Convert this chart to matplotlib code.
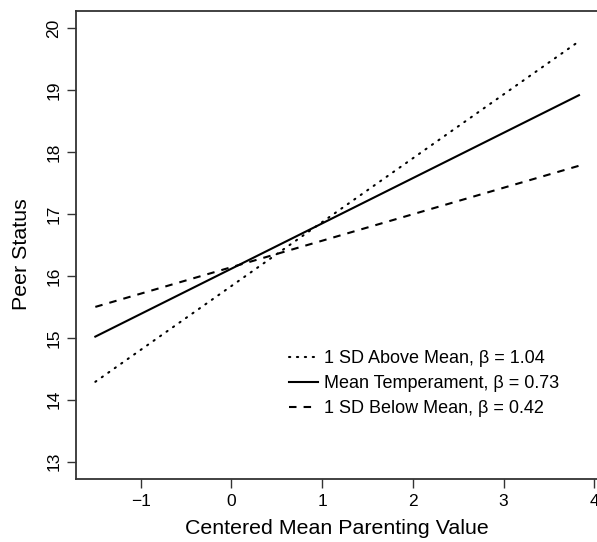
import matplotlib
matplotlib.use("Agg")
import matplotlib.pyplot as plt
import numpy as np

plt.rcParams['font.family'] = ['Liberation Sans', 'DejaVu Sans']

x_range = [-1.5, 3.83]
above_y = [14.29, 19.79]
mean_y = [15.02, 18.92]
below_y = [15.50, 17.78]
labels = ["1 SD Above Mean, \u03b2 = 1.04",
          "Mean Temperament, \u03b2 = 0.73",
          "1 SD Below Mean, \u03b2 = 0.42"]
xticks = [-1, 0, 1, 2, 3, 4]
xticklabels = ["\u22121", "0", "1", "2", "3", "4"]
yticks = [13, 14, 15, 16, 17, 18, 19, 20]

fig = plt.figure(figsize=(5.97, 5.42), dpi=100)
ax = fig.add_axes([76/597, 63/542, (598.3-76)/597, 468/542])

lw = 1.5
ax.plot(x_range, above_y, color='black', lw=lw, linestyle=(0, (0.6, 3.2)),
        dash_capstyle='round', label=labels[0])
ax.plot(x_range, mean_y, color='black', lw=lw, linestyle='-', label=labels[1])
ax.plot(x_range, below_y, color='black', lw=lw, linestyle=(0, (3.6, 3.4)),
        label=labels[2])

ax.set_xlim(-1.713, 4.043)
ax.set_ylim(12.72, 20.28)
ax.set_xticks(xticks)
ax.set_xticklabels(xticklabels)
ax.set_yticks(yticks)
ax.set_yticklabels([str(v) for v in yticks], rotation=90, va='center')
ax.tick_params(axis='both', direction='out', length=6.7, width=1.0,
               labelsize=12.5, color='#333333')
ax.tick_params(axis='x', pad=4)
ax.tick_params(axis='y', pad=4)
for s in ax.spines.values():
    s.set_linewidth(1.3)
    s.set_color('#333333')

ax.set_xlabel("Centered Mean Parenting Value", fontsize=15.4, labelpad=7)
ax.set_ylabel("Peer Status", fontsize=15.4)
ax.yaxis.set_label_coords(-(76-31)/522.3, 0.48)

leg = ax.legend(loc='upper left', bbox_to_anchor=((282-76)/522.3, (479-343)/468),
                frameon=False, fontsize=13, handlelength=1.6, handletextpad=0.35,
                labelspacing=0.45, borderaxespad=0)

fig.savefig("out.png", dpi=100)
